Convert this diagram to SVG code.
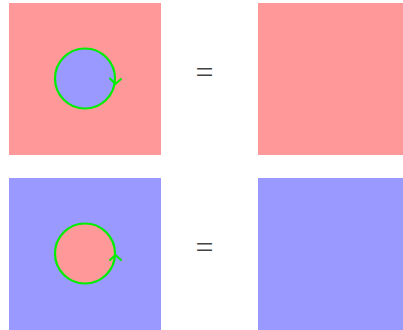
<svg xmlns="http://www.w3.org/2000/svg" width="403" height="330" viewBox="0 0 403 330">
<style>
.red{fill:#ff9999}
.blue{fill:#9999ff}
.loop{stroke:#00ee00;stroke-width:2.2;fill-opacity:1}
.arr{stroke:#00ee00;stroke-width:2;fill:none;stroke-linecap:round;stroke-linejoin:round}
.eq{font-family:"Liberation Serif",serif;font-size:32px;fill:#444;text-anchor:middle}
</style>
<rect width="403" height="330" fill="#fff"/>
<g id="top-left">
<rect class="red" x="9" y="3" width="152" height="152"/>
<circle class="loop blue" cx="85" cy="78.5" r="30"/>
<polyline class="arr" points="110,78.5 115.5,84 121,79"/>
</g>
<g id="top-eq"><text class="eq" x="204.5" y="83">=</text></g>
<g id="top-right"><rect class="red" x="258" y="3" width="145" height="152"/></g>
<g id="bottom-left">
<rect class="blue" x="9" y="178" width="152" height="152"/>
<circle class="loop red" cx="85" cy="253.5" r="30"/>
<polyline class="arr" points="110,260 115.5,255 121,260"/>
</g>
<g id="bottom-eq"><text class="eq" x="204.5" y="258">=</text></g>
<g id="bottom-right"><rect class="blue" x="258" y="178" width="145" height="152"/></g>
<g id="connectors"></g>
</svg>
